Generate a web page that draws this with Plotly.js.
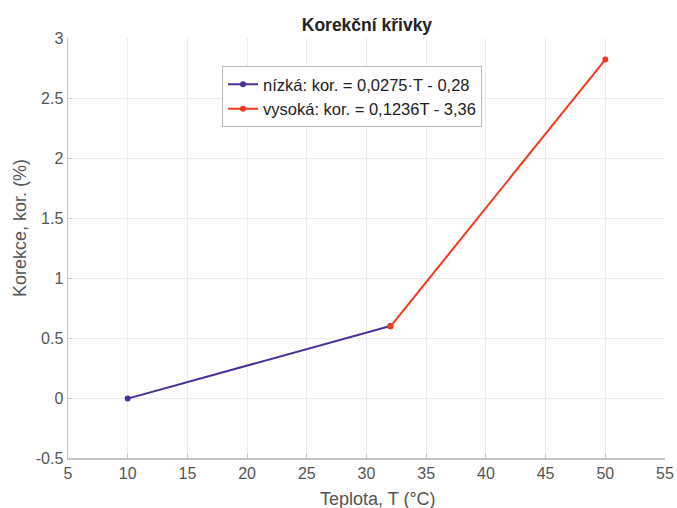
<!DOCTYPE html>
<html><head><meta charset="utf-8">
<script src="https://cdn.plot.ly/plotly-3.0.1.min.js"></script>
<style>html,body{margin:0;padding:0;background:#fff}</style>
</head><body><div id="chart" style="width:677px;height:508px"></div>
<script>
const lowT = [10, 32];
const lowKor = [-0.005, 0.6];
const highT = [32, 50];
const highKor = [0.5952, 2.82];
const lowName = 'nízká: kor. = 0,0275·T - 0,28';
const highName = 'vysoká: kor. = 0,1236T - 3,36';
const xTicks = [5,10,15,20,25,30,35,40,45,50,55];
const yTicks = [-0.5,0,0.5,1,1.5,2,2.5,3];
const xTitle = 'Teplota, T (°C)';
const yTitle = 'Korekce, kor. (%)';
const chartTitle = 'Korekční křivky';

const font = 'Liberation Sans, Arial, sans-serif';
const traces = [
  {x: lowT, y: lowKor, name: lowName, mode: 'lines+markers', line: {color: '#4B2F99', width: 2}, marker: {color: '#4B2F99', size: 6}},
  {x: highT, y: highKor, name: highName, mode: 'lines+markers', line: {color: '#F23A1C', width: 2}, marker: {color: '#F23A1C', size: 6}}
];
const axisCommon = {
  showline: true, linecolor: '#c4c4c4', linewidth: 1.5,
  ticks: 'inside', ticklen: 4, tickcolor: '#c4c4c4',
  showgrid: true, gridcolor: '#ececec', gridwidth: 1,
  zeroline: false, mirror: false,
  tickfont: {family: font, size: 16, color: '#555'}
};
const layout = {
  width: 677, height: 508,
  margin: {l: 68, r: 12, t: 38, b: 50},
  paper_bgcolor: '#fff', plot_bgcolor: '#fff',
  title: {text: '<b>' + chartTitle + '</b>', font: {family: font, size: 17.5, color: '#222'}, x: 0.542, xanchor: 'center', y: 0.952, yanchor: 'middle'},
  xaxis: Object.assign({}, axisCommon, {range: [5, 55], tickvals: xTicks, ticktext: xTicks.map(String)}),
  yaxis: Object.assign({}, axisCommon, {range: [-0.5, 3], tickvals: yTicks, ticktext: yTicks.map(String)}),
  annotations: [
    {text: xTitle, xref: 'paper', yref: 'paper', x: (378 - 68) / 597, y: (458 - 499) / 420, xanchor: 'center', yanchor: 'middle',
      showarrow: false, font: {family: font, size: 18, color: '#555'}},
    {text: yTitle, xref: 'paper', yref: 'paper', x: (20 - 68) / 597, y: (458 - 228) / 420, xanchor: 'center', yanchor: 'middle',
      textangle: -90, showarrow: false, font: {family: font, size: 18, color: '#555'}}
  ],
  showlegend: true,
  legend: {x: 0.258, y: 0.933, xanchor: 'left', yanchor: 'top', bgcolor: '#fff', bordercolor: '#bbb', borderwidth: 1,
    font: {family: font, size: 16.5, color: '#222'}, tracegroupgap: 0, itemwidth: 30}
};
Plotly.newPlot('chart', traces, layout, {displayModeBar: false, staticPlot: true});
</script></body></html>
